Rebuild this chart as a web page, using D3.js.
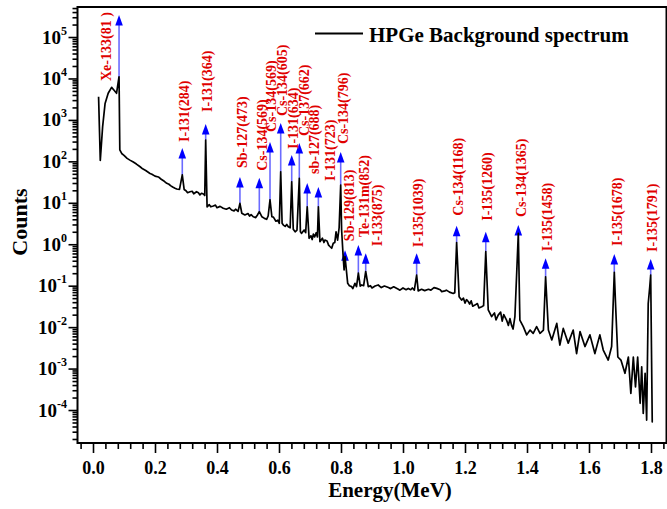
<!DOCTYPE html>
<html>
<head>
<meta charset="utf-8">
<script src="https://cdn.jsdelivr.net/npm/d3@7"></script>
<style>
body { margin: 0; background: #fff; }
svg text { font-family: "Liberation Serif", "Times New Roman", serif; }
</style>
</head>
<body>
<div id="graph"></div>
<script>

// spectrum (MeV, counts)
var energy = [0.018, 0.0235, 0.031, 0.039, 0.049, 0.060, 0.068, 0.076, 0.084, 0.0865,
    0.0925, 0.100, 0.110, 0.119, 0.130, 0.140, 0.152, 0.160, 0.170, 0.184,
    0.190, 0.200, 0.211, 0.220, 0.230, 0.238, 0.245, 0.250, 0.257, 0.2645,
    0.270, 0.279, 0.288, 0.294, 0.300, 0.305, 0.313, 0.320, 0.325, 0.334,
    0.340, 0.345, 0.350, 0.356, 0.3605, 0.3635, 0.368, 0.375, 0.380, 0.388,
    0.395, 0.400, 0.410, 0.420, 0.430, 0.440, 0.447, 0.455, 0.460, 0.468,
    0.474, 0.480, 0.490, 0.500, 0.505, 0.510, 0.517, 0.525, 0.530, 0.5365,
    0.545, 0.553, 0.560, 0.565, 0.571, 0.577, 0.582, 0.590, 0.596, 0.601,
    0.6055, 0.610, 0.614, 0.620, 0.625, 0.630, 0.636, 0.641, 0.646, 0.652,
    0.658, 0.6655, 0.669, 0.673, 0.681, 0.686, 0.691, 0.697, 0.703, 0.707,
    0.711, 0.715, 0.720, 0.724, 0.727, 0.732, 0.740, 0.745, 0.748, 0.755,
    0.760, 0.765, 0.770, 0.775, 0.780, 0.784, 0.789, 0.794, 0.799, 0.802,
    0.807, 0.810, 0.813, 0.8216, 0.827, 0.834, 0.838, 0.842, 0.845, 0.850,
    0.856, 0.862, 0.867, 0.873, 0.8797, 0.888, 0.895, 0.900, 0.910, 0.920,
    0.930, 0.940, 0.953, 0.960, 0.970, 0.985, 0.990, 1.000, 1.010, 1.017,
    1.025, 1.030, 1.0365, 1.044, 1.049, 1.060, 1.070, 1.082, 1.090, 1.100,
    1.109, 1.120, 1.125, 1.135, 1.140, 1.150, 1.162, 1.167, 1.173, 1.181,
    1.189, 1.195, 1.200, 1.205, 1.211, 1.215, 1.220, 1.225, 1.232, 1.240,
    1.245, 1.254, 1.260, 1.267, 1.275, 1.286, 1.295, 1.300, 1.307, 1.315,
    1.320, 1.325, 1.334, 1.340, 1.345, 1.350, 1.355, 1.361, 1.372, 1.377,
    1.388, 1.399, 1.41, 1.42, 1.431, 1.442, 1.453, 1.460, 1.469, 1.48,
    1.496, 1.506, 1.517, 1.533, 1.549, 1.56, 1.571, 1.587, 1.603, 1.619,
    1.635, 1.646, 1.662, 1.673, 1.6816, 1.686, 1.693, 1.703, 1.716, 1.727,
    1.735, 1.743, 1.75, 1.757, 1.765, 1.770, 1.775, 1.781, 1.786, 1.791,
    1.796, 1.799, 1.804, 1.806];
var counts = [3600, 105, 680, 2500, 4400, 6100, 5200, 4400, 11000, 190,
    155, 140, 118, 107, 96, 86, 74, 66, 60, 51,
    49, 44, 42, 37, 33, 29.5, 28, 26, 24, 22.4,
    21.5, 21, 47, 21, 19.5, 17.5, 18.5, 19, 16.5, 18.5,
    17.5, 15.5, 17, 16.3, 15, 327, 8.0, 9.0, 8.0, 8.4,
    8.8, 7.6, 8.2, 7.4, 7.0, 7.6, 6.7, 6.4, 7.0, 6.2,
    9.7, 5.6, 5.1, 5.5, 4.8, 5.2, 4.6, 4.4, 5.0, 6.1,
    4.6, 4.2, 4.0, 4.8, 11.7, 4.6, 4.5, 3.6, 3.8, 3.2,
    56, 3.2, 2.9, 2.7, 3.0, 2.65, 2.5, 32, 2.3, 2.0,
    2.2, 39, 2.0, 1.83, 2.2, 1.9, 8.0, 1.39, 1.6, 1.3,
    1.76, 1.5, 1.9, 1.5, 8.0, 1.15, 1.4, 1.1, 1.26, 1.2,
    0.95, 0.87, 0.8, 1.05, 1.1, 2.0, 1.26, 2.5, 26.8, 2.2,
    0.5, 0.24, 0.5, 0.114, 0.1, 0.095, 0.085, 0.1, 0.114, 0.095,
    0.2, 0.098, 0.104, 0.1, 0.22, 0.095, 0.1, 0.088, 0.098, 0.104,
    0.09, 0.098, 0.09, 0.085, 0.094, 0.082, 0.078, 0.088, 0.08, 0.086,
    0.08, 0.088, 0.078, 0.18, 0.075, 0.082, 0.076, 0.082, 0.078, 0.09,
    0.086, 0.08, 0.072, 0.075, 0.078, 0.07, 0.065, 0.068, 1.1, 0.054,
    0.045, 0.05, 0.038, 0.046, 0.041, 0.036, 0.043, 0.032, 0.034, 0.037,
    0.029, 0.031, 0.033, 0.66, 0.026, 0.018, 0.022, 0.015, 0.0195, 0.023,
    0.014, 0.02, 0.0148, 0.011, 0.016, 0.0112, 0.009, 0.018, 1.83, 0.0148,
    0.0103, 0.0065, 0.0085, 0.0071, 0.0103, 0.0071, 0.0085, 0.164, 0.0085, 0.0049,
    0.0123, 0.0037, 0.0093, 0.0041, 0.0085, 0.0023, 0.0078, 0.0034, 0.0065, 0.0023,
    0.0065, 0.0028, 0.0016, 0.0034, 0.21, 0.031, 0.0019, 0.0016, 0.00077, 0.0019,
    0.00025, 0.0019, 0.00036, 0.0019, 0.000145, 0.0011, 0.000083, 0.00077, 0.000057, 0.037,
    0.094, 0.18, 0.000052, 0.000052];

// identified peaks
var peakNames = ["Xe-133(81 )", "I-131(284)", "I-131(364)", "Sb-127(473)", "Cs-134(569)",
    "Cs-134(569)", "Cs-134(605)", "I-131(634)", "Cs-137(662)", "sb-127(688)",
    "I-131(723)", "Cs-134(796)", "Sb-129(813)", "Te-131m(852)", "I-133(875)",
    "I-135(1039)", "Cs-134(1168)", "I-135(1260)", "Cs-134(1365)", "I-135(1458)",
    "I-135(1678)", "I-135(1791)"];
var peakE = [0.084, 0.288, 0.3635, 0.474, 0.5365, 0.571, 0.6055, 0.641, 0.6655, 0.691,
    0.727, 0.799, 0.813, 0.856, 0.8797, 1.044, 1.173, 1.267, 1.372, 1.460,
    1.6816, 1.799];
var peakTop = [11000, 47, 327, 9.7, 6.1, 11.7, 56, 32, 39, 8.0,
    8.0, 26.8, 0.5, 0.2, 0.22, 0.18, 1.1, 0.66, 1.83, 0.164,
    0.21, 0.18];
var arrowTip = [340000, 210, 795, 42, 40, 293, 837, 142, 277, 30,
    24, 167, 0.72, 0.96, 0.61, 0.61, 2.8, 2.0, 2.9, 0.46,
    0.58, 0.44];
// label nudges in px [dx, dy] where labels were moved to avoid overlap
var labelNudge = [[-14, 73], [0, 1], [0, -5], [1, -2], [1, 0],
    [0, -3], [0, 0], [0, 1], [3, 0], [5, -2],
    [10, 1], [1, -1], [3, -2], [4, -1], [10, 0],
    [0, 1], [0, -3], [0, -4], [1, -1], [0, 0],
    [1, -1], [0, 0]];

var xTicks = [0, 0.2, 0.4, 0.6, 0.8, 1.0, 1.2, 1.4, 1.6, 1.8];
var yDecades = [-4, -3, -2, -1, 0, 1, 2, 3, 4, 5];

function drawChart() {
    var W = 667, H = 509;
    var pLeft = 77.5, pRight = 666.5, pTop = 7, pBottom = 443;

    var svg = d3.select("#graph").append("svg")
        .attr("width", W)
        .attr("height", H);

    var xScale = d3.scaleLinear()
        .domain([-0.05, 1.85])
        .range([pLeft, pRight]);

    var yScale = d3.scaleLog()
        .domain([1.6e-5, 5.3e5])
        .range([pBottom, pTop]);

    // minor ticks
    var xMinor = d3.range(-0.04, 1.85, 0.04).filter(function(d) {
        return Math.abs(d / 0.2 - Math.round(d / 0.2)) > 0.01;
    });
    var yMinor = [];
    yDecades.concat([-5]).forEach(function(p) {
        for (var m = 2; m <= 9; m++) {
            var v = m * Math.pow(10, p);
            if (v > 1.6e-5 && v < 5.3e5) yMinor.push(v);
        }
    });

    // x axis
    svg.append("g")
        .attr("class", "x axis")
        .attr("transform", "translate(0," + pBottom + ")")
        .call(d3.axisBottom(xScale).tickValues(xMinor).tickSize(6).tickFormat(""));

    svg.append("g")
        .attr("class", "x axis")
        .attr("transform", "translate(0," + pBottom + ")")
        .call(d3.axisBottom(xScale).tickValues(xTicks).tickSize(10).tickPadding(8)
            .tickFormat(d3.format(".1f")));

    // y axis
    svg.append("g")
        .attr("class", "y axis")
        .attr("transform", "translate(" + pLeft + ",0)")
        .call(d3.axisLeft(yScale).tickValues(yMinor).tickSize(5).tickFormat(""));

    svg.append("g")
        .attr("class", "y axis")
        .attr("transform", "translate(" + pLeft + ",0)")
        .call(d3.axisLeft(yScale).tickValues(yDecades.map(function(p) { return Math.pow(10, p); }))
            .tickSize(9).tickFormat(""));

    svg.selectAll(".axis .domain").remove();
    svg.selectAll(".axis line").attr("stroke", "#000").attr("stroke-width", 1.6);
    svg.selectAll(".x.axis text")
        .attr("font-family", "Liberation Serif, serif")
        .attr("font-size", 18)
        .attr("font-weight", "bold")
        .attr("fill", "#000");

    // y tick labels 10^n
    var yLab = svg.append("g");
    yDecades.forEach(function(p) {
        var t = yLab.append("text")
            .attr("x", 67)
            .attr("y", yScale(Math.pow(10, p)) + 6.5)
            .attr("text-anchor", "end")
            .attr("font-weight", "bold")
            .attr("font-size", 19);
        t.append("tspan").text("10");
        t.append("tspan")
            .attr("font-size", 12)
            .attr("dy", -9)
            .text(p);
    });

    // frame
    svg.append("rect")
        .attr("x", pLeft)
        .attr("y", pTop)
        .attr("width", pRight - pLeft)
        .attr("height", pBottom - pTop)
        .attr("fill", "none")
        .attr("stroke", "#000")
        .attr("stroke-width", 2);

    // axis titles
    svg.append("text")
        .attr("x", 390)
        .attr("y", 497)
        .attr("text-anchor", "middle")
        .attr("font-weight", "bold")
        .attr("font-size", 21)
        .text("Energy(MeV)");

    svg.append("text")
        .attr("transform", "translate(27,222) rotate(-90)")
        .attr("text-anchor", "middle")
        .attr("font-weight", "bold")
        .attr("font-size", 22)
        .text("Counts");

    // arrows
    var arrows = svg.append("g");
    peakE.forEach(function(e, i) {
        var x = xScale(e), yt = yScale(arrowTip[i]);
        arrows.append("line")
            .attr("x1", x).attr("x2", x)
            .attr("y1", yScale(peakTop[i]))
            .attr("y2", yt + 8)
            .attr("stroke", "#6b6bff")
            .attr("stroke-width", 1.6);
        arrows.append("path")
            .attr("d", "M" + x + "," + yt + "L" + (x - 3.8) + "," + (yt + 10.5) + "L" + (x + 3.8) + "," + (yt + 10.5) + "Z")
            .attr("fill", "#0000ff");
    });

    // spectrum line
    var spec = energy.map(function(e, i) { return {e: e, c: counts[i]}; });
    var line = d3.line()
        .x(function(d) { return xScale(d.e); })
        .y(function(d) { return yScale(d.c); })
        .curve(d3.curveLinear);

    svg.append("path")
        .datum(spec)
        .attr("d", line)
        .attr("fill", "none")
        .attr("stroke", "#000")
        .attr("stroke-width", 1.7)
        .attr("stroke-linejoin", "round");

    // peak labels
    var labs = svg.append("g");
    peakNames.forEach(function(name, i) {
        var x = xScale(peakE[i]) + 1.5 + labelNudge[i][0];
        var y = yScale(arrowTip[i]) - 7 + labelNudge[i][1];
        labs.append("text")
            .attr("transform", "translate(" + x + "," + y + ") rotate(-90)")
            .attr("dy", "0.35em")
            .attr("fill", "#e00000")
            .attr("font-weight", "bold")
            .attr("font-size", 14)
            .text(name);
    });

    // legend
    svg.append("line")
        .attr("x1", 315).attr("x2", 363)
        .attr("y1", 33.5).attr("y2", 33.5)
        .attr("stroke", "#000")
        .attr("stroke-width", 2);
    svg.append("text")
        .attr("x", 369)
        .attr("y", 41.5)
        .attr("font-weight", "bold")
        .attr("font-size", 21)
        .text("HPGe Background spectrum");
}

drawChart();

</script>
</body>
</html>
